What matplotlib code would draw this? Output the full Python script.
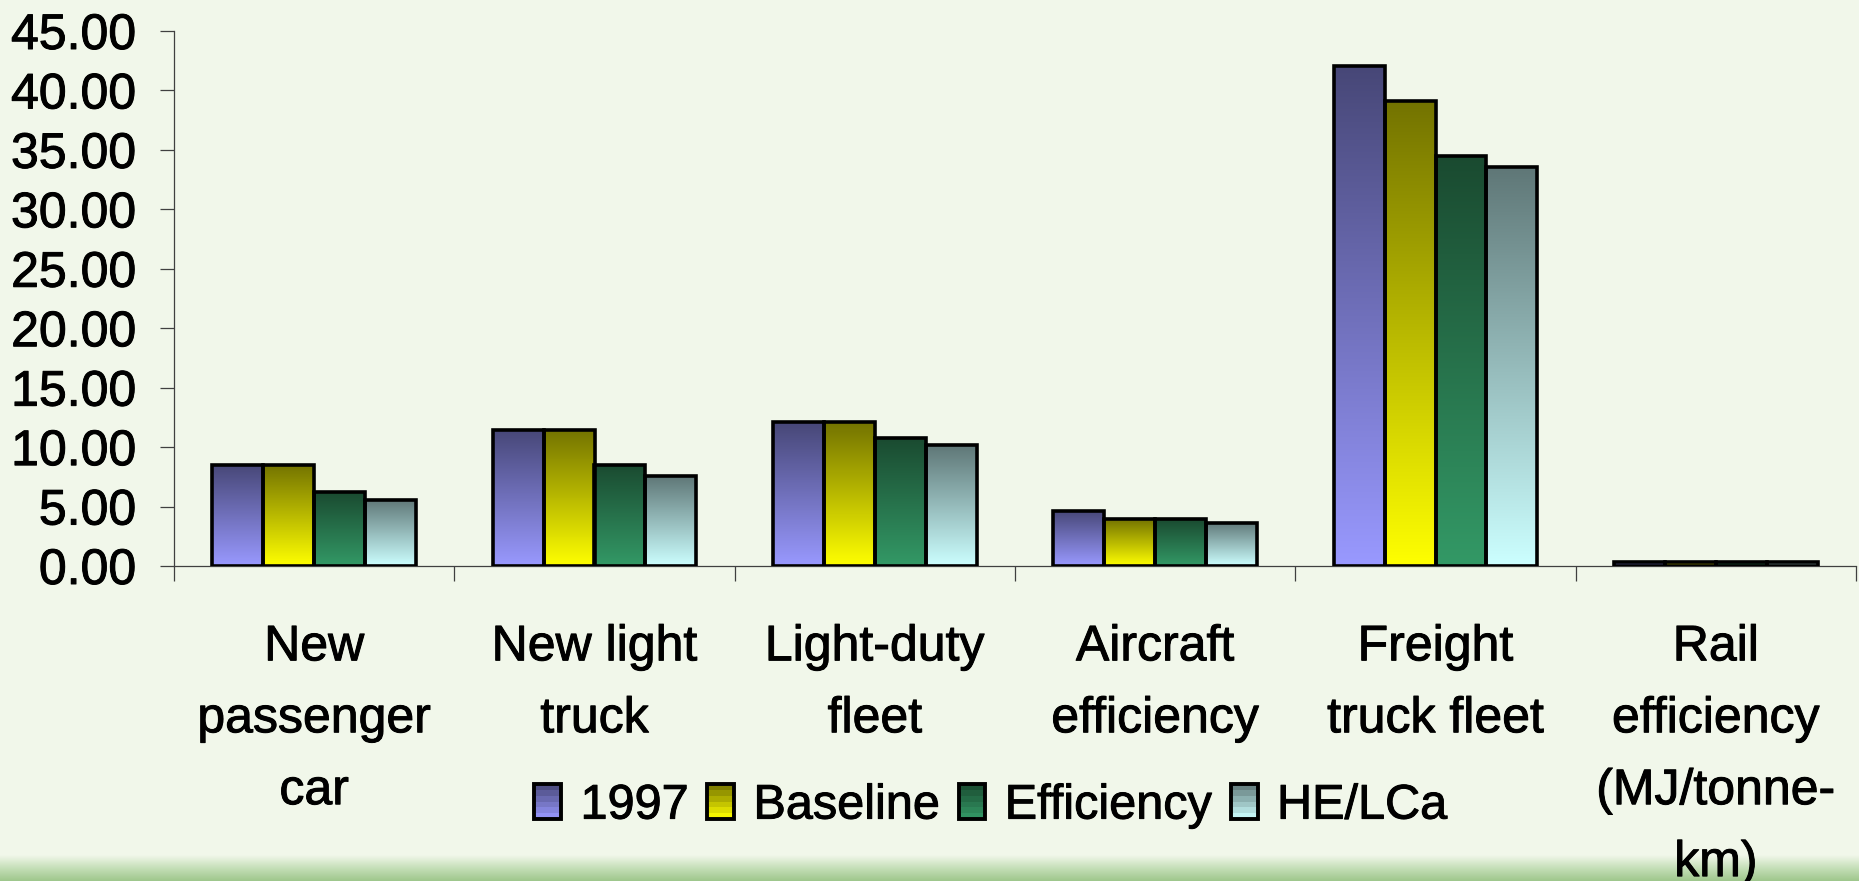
import numpy as np
import matplotlib
matplotlib.use("Agg")
import matplotlib.pyplot as plt
import matplotlib.patheffects as pe
from matplotlib.colors import LinearSegmentedColormap
from matplotlib.legend_handler import HandlerBase
from matplotlib.patches import Rectangle
from matplotlib.ticker import FormatStrFormatter

plt.rcParams["font.family"] = ["Liberation Sans", "DejaVu Sans"]

# data
categories = [
    "New\npassenger\ncar",
    "New light\ntruck",
    "Light-duty\nfleet",
    "Aircraft\nefficiency",
    "Freight\ntruck fleet",
    "Rail\nefficiency\n(MJ/tonne-\nkm)",
]
series = ["1997", "Baseline", "Efficiency", "HE/LCa"]
v1997 = [8.52, 11.48, 12.10, 4.63, 42.04, 0.35]
baseline = [8.52, 11.48, 12.10, 3.92, 39.09, 0.35]
efficiency = [6.20, 8.52, 10.78, 3.92, 34.49, 0.35]
he_lca = [5.56, 7.55, 10.14, 3.63, 33.53, 0.35]
values = [v1997, baseline, efficiency, he_lca]

# gradient colours (top, bottom) for each series
top_colors = ["#474777", "#737300", "#1a4a30", "#5f7777"]
bottom_colors = ["#9999ff", "#ffff00", "#339966", "#ccffff"]

bg = "#f1f7ea"
axis_col = "#404040"
fs = 36
# a touch of stroke so the text looks as heavy as the original
heavy = [pe.withStroke(linewidth=0.7, foreground="black")]


class GradHandler(HandlerBase):
    # legend swatch made of a few colour bands, like the original
    def __init__(self, top, bottom, n=6):
        super().__init__()
        self.top = top
        self.bottom = bottom
        self.n = n

    def create_artists(self, legend, orig_handle, xdescent, ydescent,
                       width, height, fontsize, trans):
        cmap = LinearSegmentedColormap.from_list("g", [self.bottom, self.top])
        arts = []
        for i in range(self.n):
            r = Rectangle((-xdescent, -ydescent + height * i / self.n),
                          width, height / self.n,
                          facecolor=cmap((i + 0.5) / self.n),
                          edgecolor="none", transform=trans)
            arts.append(r)
        edge = Rectangle((-xdescent, -ydescent), width, height, fill=False,
                         edgecolor="black", lw=2.8, transform=trans)
        arts.append(edge)
        return arts


fig = plt.figure(figsize=(18.59, 8.81), dpi=100, facecolor=bg)
ax = fig.add_axes([174 / 1859, 1 - 566 / 881, (1856 - 174) / 1859, (566 - 31) / 881])
ax.set_facecolor(bg)

x = np.arange(len(categories))
w = 1 / 5.5
grad = np.linspace(0, 1, 256).reshape(-1, 1)

for i, vals in enumerate(values):
    cmap = LinearSegmentedColormap.from_list("s%d" % i, [bottom_colors[i], top_colors[i]])
    bars = ax.bar(x + (i - 1.5) * w, vals, w, facecolor="none",
                  edgecolor="black", linewidth=2.6, zorder=3)
    for b in bars:
        bx, by = b.get_x(), b.get_y()
        bw, bh = b.get_width(), b.get_height()
        ax.imshow(grad, extent=[bx, bx + bw, by, by + bh], origin="lower",
                  aspect="auto", cmap=cmap, zorder=2, interpolation="bilinear")

ax.set_xlim(-0.5, len(categories) - 0.5)
ax.set_ylim(0, 45)
ax.set_yticks(np.arange(0, 46, 5))
ax.yaxis.set_major_formatter(FormatStrFormatter("%.2f"))

ax.set_xticks(x)
ax.set_xticklabels(categories, linespacing=1.72)
ax.set_xticks(np.arange(-0.5, len(categories), 1), minor=True)

ax.tick_params(axis="x", which="major", length=0, pad=42, labelsize=fs)
ax.tick_params(axis="x", which="minor", length=11, width=0.9, color=axis_col)
ax.tick_params(axis="y", length=10, width=0.9, color=axis_col, pad=17, labelsize=fs)
for lab in ax.get_xticklabels() + ax.get_yticklabels():
    lab.set_path_effects(heavy)

for s in ["top", "right"]:
    ax.spines[s].set_visible(False)
for s in ["left", "bottom"]:
    ax.spines[s].set_color(axis_col)
    ax.spines[s].set_linewidth(0.9)

handles = [Rectangle((0, 0), 1, 1) for _ in series]
hmap = {h: GradHandler(top_colors[i], bottom_colors[i]) for i, h in enumerate(handles)}
leg = fig.legend(handles, series, handler_map=hmap, loc="center",
                 bbox_to_anchor=(0.533, 0.085), ncol=4, frameon=False, fontsize=35,
                 handlelength=0.55, handleheight=0.72, handletextpad=0.4,
                 columnspacing=0.38, borderpad=0)
for t in leg.get_texts():
    t.set_path_effects(heavy)

# green strip at the bottom of the slide
band = fig.add_axes([0, 0, 1, 26 / 881], zorder=-1)
band_cmap = LinearSegmentedColormap.from_list("band", ["#9fc78c", "#c5dfb8", bg])
band.imshow(np.linspace(0, 1, 64).reshape(-1, 1), origin="lower", aspect="auto",
            cmap=band_cmap, extent=[0, 1, 0, 1])
band.axis("off")

fig.savefig("out.png", dpi=100, facecolor=bg)
